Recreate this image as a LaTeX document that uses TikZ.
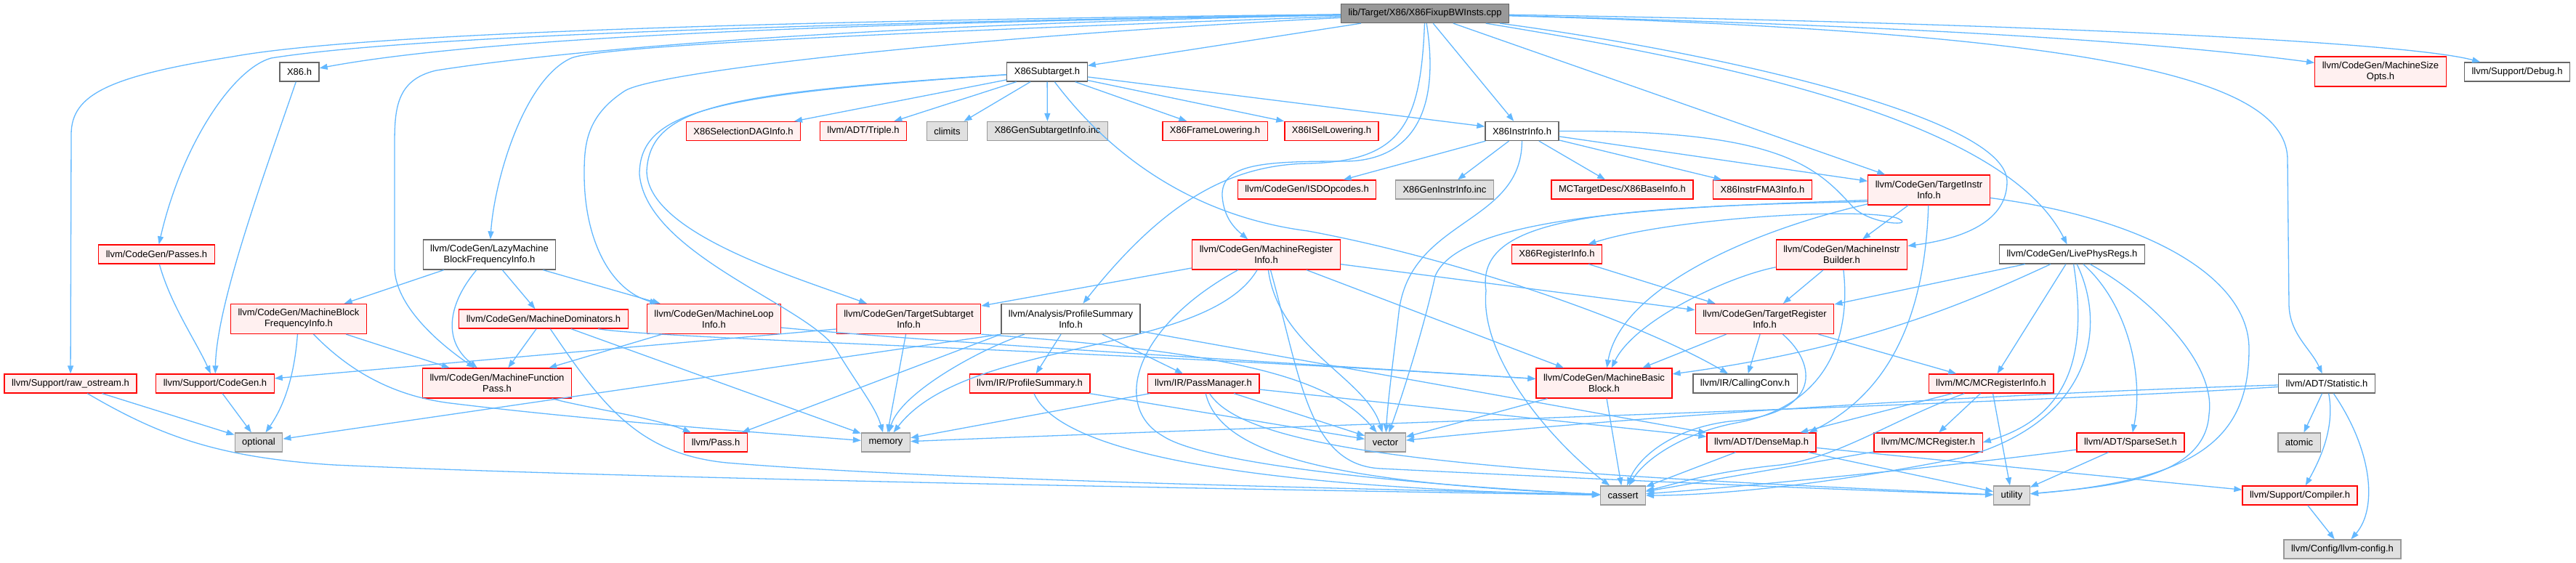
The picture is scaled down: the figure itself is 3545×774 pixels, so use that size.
\documentclass[tikz,border=0pt]{standalone}
\usepackage{fontspec}
\setmainfont{Liberation Sans}
\usetikzlibrary{arrows.meta}
\definecolor{dxblue}{HTML}{63B8FF}
\definecolor{dxred}{HTML}{FF0000}
\definecolor{dxpink}{HTML}{FFF0F0}
\definecolor{dxgrey}{HTML}{666666}
\definecolor{dxsys}{HTML}{999999}
\definecolor{dxsysfill}{HTML}{E0E0E0}
\definecolor{dxroot}{HTML}{999999}

\begin{document}
\begin{tikzpicture}[x=1pt, y=-1pt,
  box/.style={draw, align=center, font=\fontsize{13}{15}\selectfont,
              minimum height=26pt, inner xsep=10pt, inner ysep=2pt, line width=1.3pt},
  redbox/.style={box, draw=dxred, fill=dxpink},
  plainbox/.style={box, draw=dxgrey, fill=white},
  sysbox/.style={box, draw=dxsys, fill=dxsysfill},
  rootbox/.style={box, draw=dxgrey, fill=dxroot},
  tall/.style={minimum height=41pt},
  arr/.style={draw=dxblue, line width=1.3pt, -{Triangle[length=11pt,width=8pt]}}
]
  \useasboundingbox (0,0) rectangle (3545,774);

  \node[rootbox] (root) at (1961,18.5) {lib/Target/X86/X86FixupBWInsts.cpp};
  \node[plainbox] (x86h) at (412,99) {X86.h};
  \node[plainbox] (subtarget) at (1441,99) {X86Subtarget.h};
  \node[redbox, tall] (sizeopts) at (3276,98.5) {llvm/CodeGen/MachineSize\\Opts.h};
  \node[plainbox] (debug) at (3464,99) {llvm/Support/Debug.h};
  \node[redbox] (daginfo) at (1023,180.5) {X86SelectionDAGInfo.h};
  \node[redbox] (triple) at (1188,180.5) {llvm/ADT/Triple.h};
  \node[sysbox] (climits) at (1303.5,180.5) {climits};
  \node[sysbox] (gensubinfo) at (1441.5,180.5) {X86GenSubtargetInfo.inc};
  \node[redbox] (framelow) at (1672,180.5) {X86FrameLowering.h};
  \node[redbox] (isellow) at (1832.5,180.5) {X86ISelLowering.h};
  \node[plainbox] (instrinfo) at (2094.5,180.5) {X86InstrInfo.h};
  \node[redbox] (isdopc) at (1798.5,261) {llvm/CodeGen/ISDOpcodes.h};
  \node[sysbox] (geninstr) at (1988,261) {X86GenInstrInfo.inc};
  \node[redbox] (baseinfo) at (2232.5,261) {MCTargetDesc/X86BaseInfo.h};
  \node[redbox] (fmainfo) at (2425.5,261) {X86InstrFMA3Info.h};
  \node[redbox, tall] (tii) at (2654.5,261.5) {llvm/CodeGen/TargetInstr\\Info.h};
  \node[redbox] (passes) at (215.5,350) {llvm/CodeGen/Passes.h};
  \node[plainbox, tall] (lazybfi) at (673.5,350.5) {llvm/CodeGen/LazyMachine\\BlockFrequencyInfo.h};
  \node[redbox, tall] (mri) at (1742.5,350.5) {llvm/CodeGen/MachineRegister\\Info.h};
  \node[redbox] (x86reg) at (2142.5,350) {X86RegisterInfo.h};
  \node[redbox, tall] (mib) at (2534.5,350.5) {llvm/CodeGen/MachineInstr\\Builder.h};
  \node[plainbox] (livephys) at (2851.5,350) {llvm/CodeGen/LivePhysRegs.h};
  \node[redbox, tall] (mbfi) at (411,439) {llvm/CodeGen/MachineBlock\\FrequencyInfo.h};
  \node[redbox] (domtree) at (748,439) {llvm/CodeGen/MachineDominators.h};
  \node[redbox, tall] (mloop) at (982.5,439) {llvm/CodeGen/MachineLoop\\Info.h};
  \node[redbox, tall] (tsi) at (1250.5,439) {llvm/CodeGen/TargetSubtarget\\Info.h};
  \node[plainbox, tall] (psi) at (1473.5,439) {llvm/Analysis/ProfileSummary\\Info.h};
  \node[redbox, tall] (tri) at (2428.5,439) {llvm/CodeGen/TargetRegister\\Info.h};
  \node[redbox] (rawos) at (97,528) {llvm/Support/raw\_ostream.h};
  \node[redbox] (cgsupport) at (296,528) {llvm/Support/CodeGen.h};
  \node[redbox, tall] (mfpass) at (684,527.5) {llvm/CodeGen/MachineFunction\\Pass.h};
  \node[redbox] (profsum) at (1417,528) {llvm/IR/ProfileSummary.h};
  \node[redbox] (passmgr) at (1656,528) {llvm/IR/PassManager.h};
  \node[redbox, tall] (mbb) at (2207.5,527.5) {llvm/CodeGen/MachineBasic\\Block.h};
  \node[plainbox] (callconv) at (2401.5,528) {llvm/IR/CallingConv.h};
  \node[redbox] (mcreginfo) at (2740,528) {llvm/MC/MCRegisterInfo.h};
  \node[plainbox] (statistic) at (3202,528) {llvm/ADT/Statistic.h};
  \node[sysbox] (optional) at (356,609) {optional};
  \node[redbox] (pass) at (985,609) {llvm/Pass.h};
  \node[sysbox] (memory) at (1219,609) {memory};
  \node[sysbox] (vector) at (1906.5,609) {vector};
  \node[redbox] (densemap) at (2424,609) {llvm/ADT/DenseMap.h};
  \node[redbox] (mcreg) at (2653.5,609) {llvm/MC/MCRegister.h};
  \node[redbox] (sparseset) at (2932,609) {llvm/ADT/SparseSet.h};
  \node[sysbox] (atomic) at (3164,609) {atomic};
  \node[sysbox] (cassert) at (2233.5,682) {cassert};
  \node[sysbox] (utility) at (2768.5,682) {utility};
  \node[redbox] (compiler) at (3165,682) {llvm/Support/Compiler.h};
  \node[sysbox] (llvmconfig) at (3223.5,756) {llvm/Config/llvm-config.h};

  \draw[arr] (root) .. controls (1300,30) and (700,45) .. (x86h);
  \draw[arr] (root) .. controls (1100,28) and (500,45) .. (320,78) .. controls (150,105) and (98,130) .. (98,185) -- (rawos);
  \draw[arr] (root) .. controls (1100,32) and (560,50) .. (373,80) .. controls (320,95) and (250,200) .. (passes);
  \draw[arr] (root) .. controls (1100,36) and (740,75) .. (600,97) .. controls (545,110) and (543,150) .. (543,200) -- (543,370) .. controls (545,420) and (600,470) .. (mfpass);
  \draw[arr] (root) .. controls (1300,42) and (830,62) .. (786,80) .. controls (720,110) and (680,250) .. (lazybfi);
  \draw[arr] (root) .. controls (1300,52) and (900,100) .. (860,125) .. controls (806,160) and (804,200) .. (804,240) .. controls (804,330) and (840,400) .. (mloop);
  \draw[arr] (root) -- (subtarget);
  \draw[arr] (root) -- (instrinfo);
  \draw[arr] (root) -- (tii);
  \draw[arr] (root) .. controls (1985,170) and (1930,222) .. (1850,222) .. controls (1740,222) and (1680,225) .. (1682,270) .. controls (1684,300) and (1700,315) .. (mri);
  \draw[arr] (root) .. controls (1955,170) and (1930,222) .. (1800,225) .. controls (1690,227) and (1600,280) .. (psi);
  \draw[arr] (root) .. controls (2350,70) and (2762,160) .. (2762,250) .. controls (2762,310) and (2690,330) .. (mib);
  \draw[arr] (root) .. controls (2400,90) and (2760,170) .. (livephys);
  \draw[arr] (root) .. controls (2900,45) and (3148,110) .. (3148,220) -- (3150,420) .. controls (3151,460) and (3180,480) .. (statistic);
  \draw[arr] (root) .. controls (2600,35) and (2950,55) .. (sizeopts);
  \draw[arr] (root) .. controls (2700,30) and (3300,55) .. (debug);

  \draw[arr] (x86h) .. controls (360,250) and (298,420) .. (cgsupport);
  \draw[arr] (passes) .. controls (235,420) and (270,470) .. (cgsupport);

  \draw[arr] (subtarget) -- (daginfo);
  \draw[arr] (subtarget) -- (triple);
  \draw[arr] (subtarget) -- (climits);
  \draw[arr] (subtarget) -- (gensubinfo);
  \draw[arr] (subtarget) -- (framelow);
  \draw[arr] (subtarget) -- (isellow);
  \draw[arr] (subtarget) -- (instrinfo);
  \draw[arr] (subtarget) .. controls (1540,230) and (1660,300) .. (1800,318) .. controls (2000,355) and (2250,440) .. (callconv);
  \draw[arr] (subtarget) .. controls (1000,128) and (895,145) .. (890,235) .. controls (890,320) and (1090,380) .. (tsi);
  \draw[arr] (subtarget) .. controls (990,130) and (880,150) .. (880,240) .. controls (890,350) and (1110,420) .. (1150,480) .. controls (1180,530) and (1205,560) .. (memory);

  \draw[arr] (instrinfo) -- (isdopc);
  \draw[arr] (instrinfo) -- (geninstr);
  \draw[arr] (instrinfo) -- (baseinfo);
  \draw[arr] (instrinfo) -- (fmainfo);
  \draw[arr] (instrinfo) -- (tii);
  \draw[arr] (instrinfo) .. controls (2094,310) and (1940,300) .. (1925,430) .. controls (1918,490) and (1910,550) .. (vector);
  \draw[arr] (instrinfo.east) .. controls (2450,178) and (2500,230) .. (2550,285) .. controls (2575,310) and (2640,312) .. (2610,300) .. controls (2560,285) and (2300,300) .. (x86reg);

  \draw[arr] (tii) -- (mib);
  \draw[arr] (tii) .. controls (2400,320) and (2230,400) .. (mbb);
  \draw[arr] ([yshift=-14pt]tii.west) .. controls (2300,285) and (2010,295) .. (1975,380) .. controls (1962,440) and (1935,530) .. (vector);
  \draw[arr] ([yshift=-16pt]tii.west) .. controls (2200,285) and (2030,300) .. (2045,400) .. controls (2035,500) and (2150,620) .. (cassert);
  \draw[arr] (tii) .. controls (2650,400) and (2620,530) .. ([xshift=-10pt]densemap.north east);
  \draw[arr] (tii) .. controls (2950,300) and (3095,380) .. (3095,480) .. controls (3095,600) and (3030,660) .. (utility);

  \draw[arr] (rawos) -- (optional);
  \draw[arr] (rawos) .. controls (220,600) and (300,630) .. (460,640) .. controls (900,660) and (1800,675) .. (cassert);
  \draw[arr] (cgsupport) -- (optional);

  \draw[arr] (lazybfi) -- (mbfi);
  \draw[arr] (lazybfi) .. controls (615,420) and (610,470) .. (mfpass);
  \draw[arr] (lazybfi) -- (domtree);
  \draw[arr] (lazybfi) -- (mloop);

  \draw[arr] (mbfi) .. controls (405,520) and (390,560) .. (optional);
  \draw[arr] (mbfi) -- (mfpass);
  \draw[arr] (mbfi) .. controls (480,510) and (540,545) .. (620,555) .. controls (800,577) and (1000,592) .. (memory);

  \draw[arr] (domtree) -- (mfpass);
  \draw[arr] ([xshift=-42pt]domtree.south east) .. controls (900,466) and (1500,482) .. (mbb);
  \draw[arr] (domtree) -- (memory);
  \draw[arr] (domtree) .. controls (830,560) and (880,625) .. (1000,637) .. controls (1300,662) and (1900,673) .. (cassert);

  \draw[arr] (mloop) -- (mfpass);
  \draw[arr] ([yshift=-12pt]mloop.east) .. controls (1300,472) and (1700,495) .. (mbb);
  \draw[arr] (mfpass) .. controls (800,560) and (900,575) .. (pass);

  \draw[arr] ([yshift=-14pt]tsi.west) -- (cgsupport);
  \draw[arr] (tsi) -- (memory);
  \draw[arr] (tsi.south east) .. controls (1700,485) and (1830,520) .. (vector);

  \draw[arr] (psi.south west) -- (optional);
  \draw[arr] (psi.south west) -- (pass);
  \draw[arr] (psi) .. controls (1350,480) and (1240,540) .. (memory);
  \draw[arr] (psi) -- (profsum);
  \draw[arr] (psi) -- (passmgr);
  \draw[arr] (psi) -- (densemap);

  \draw[arr] (profsum) .. controls (1470,650) and (1900,675) .. (cassert);
  \draw[arr] (profsum) -- (vector);

  \draw[arr] (passmgr) -- (memory);
  \draw[arr] (passmgr) .. controls (1680,630) and (1850,665) .. (cassert);
  \draw[arr] (passmgr) .. controls (1720,630) and (2100,652) .. (utility);
  \draw[arr] (passmgr) -- (vector);
  \draw[arr] (passmgr) -- (densemap);

  \draw[arr] (mri) -- (tsi);
  \draw[arr] (mri) .. controls (1660,490) and (1330,465) .. (memory);
  \draw[arr] (mri) .. controls (1760,480) and (1880,520) .. (vector);
  \draw[arr] (mri) -- (mbb);
  \draw[arr] (mri) -- (tri);
  \draw[arr] (mri) .. controls (1560,450) and (1530,560) .. (1600,600) .. controls (1660,640) and (1950,668) .. (cassert);
  \draw[arr] (mri) .. controls (1790,520) and (1800,640) .. (1900,645) .. controls (2200,660) and (2550,675) .. (utility);

  \draw[arr] (x86reg) -- (tri);

  \draw[arr] (mib) .. controls (2380,380) and (2250,440) .. (mbb);
  \draw[arr] (mib) -- (tri);
  \draw[arr] (mib) .. controls (2548,470) and (2510,560) .. (2390,582) .. controls (2320,595) and (2265,630) .. (cassert);

  \draw[arr] (tri) -- (mbb);
  \draw[arr] (tri) -- (callconv);
  \draw[arr] (tri) .. controls (2500,500) and (2510,570) .. (2380,580) .. controls (2300,590) and (2255,630) .. (cassert);
  \draw[arr] (tri) -- (mcreginfo);

  \draw[arr] (livephys) -- (tri);
  \draw[arr] (livephys) .. controls (2700,420) and (2560,480) .. (mbb);
  \draw[arr] (livephys) -- (mcreginfo);
  \draw[arr] (livephys) .. controls (2870,470) and (2860,570) .. (mcreg.east);
  \draw[arr] (livephys) .. controls (2930,420) and (2950,520) .. (sparseset);
  \draw[arr] (livephys) .. controls (2900,450) and (2880,580) .. (2700,630) .. controls (2500,670) and (2350,682) .. (cassert);
  \draw[arr] (livephys) .. controls (2960,410) and (3050,500) .. (3040,570) .. controls (3035,660) and (2900,670) .. (utility);

  \draw[arr] (mcreginfo) -- (densemap);
  \draw[arr] (mcreginfo) -- (mcreg);
  \draw[arr] (mcreginfo) .. controls (2600,580) and (2530,630) .. (2450,640) .. controls (2350,650) and (2300,668) .. (cassert);
  \draw[arr] (mcreginfo) -- (utility);

  \draw[arr] (mbb) -- (vector);
  \draw[arr] (mbb) -- (cassert);

  \draw[arr] (densemap) -- (cassert);
  \draw[arr] (densemap) -- (utility);
  \draw[arr] (densemap) -- (compiler);

  \draw[arr] (mcreg) -- (cassert);
  \draw[arr] (sparseset) .. controls (2700,640) and (2400,670) .. (cassert);
  \draw[arr] (sparseset) -- (utility);

  \draw[arr] (statistic) -- (atomic);
  \draw[arr] (statistic) .. controls (3212,580) and (3200,620) .. (compiler);
  \draw[arr] (statistic) .. controls (3265,620) and (3272,700) .. (llvmconfig);
  \draw[arr] (statistic) .. controls (2800,555) and (1800,585) .. (memory);
  \draw[arr] (statistic) .. controls (2800,540) and (2300,568) .. (vector);

  \draw[arr] (compiler) -- (llvmconfig);
\end{tikzpicture}
\end{document}
